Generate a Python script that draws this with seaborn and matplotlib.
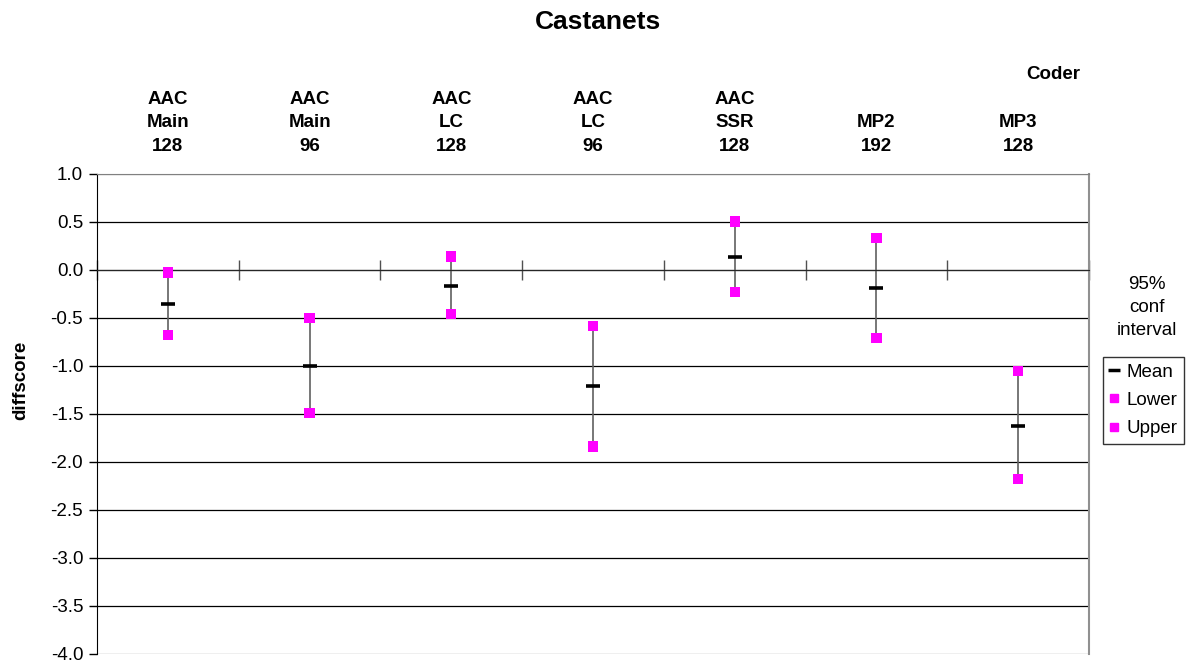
import matplotlib
matplotlib.use("Agg")
import matplotlib.pyplot as plt
from matplotlib.lines import Line2D
import numpy as np
import pandas as pd
import seaborn as sns

# Data
coders = ['AAC\nMain\n128', 'AAC\nMain\n96', 'AAC\nLC\n128', 'AAC\nLC\n96',
          'AAC\nSSR\n128', 'MP2\n192', 'MP3\n128']
mean = [-0.35, -1.00, -0.165, -1.205, 0.13, -0.19, -1.62]
lower = [-0.68, -1.49, -0.455, -1.84, -0.23, -0.705, -2.18]
upper = [-0.025, -0.50, 0.14, -0.58, 0.505, 0.336, -1.055]
yticks = np.arange(-4.0, 1.01, 0.5)

df = pd.DataFrame({'pos': range(len(coders)), 'coder': coders,
                   'Mean': mean, 'Lower': lower, 'Upper': upper})
df_ci = df.melt(id_vars=['pos', 'coder'], value_vars=['Lower', 'Upper'],
                var_name='stat', value_name='value')

sns.set_style('white', {'text.color': 'black', 'axes.labelcolor': 'black',
                        'xtick.color': 'black', 'ytick.color': 'black'})
plt.rcParams['font.family'] = ['Liberation Sans', 'DejaVu Sans']
plt.rcParams['axes.unicode_minus'] = False

fig = plt.figure(figsize=(11.95, 6.62), dpi=100)
ax = fig.add_axes([0.0812, 0.0121, 0.8301, 0.7251])

# gridlines
for v in yticks:
  ax.axhline(v, color='black' if -4 < v < 1 else '#808080', lw=0.9, zorder=0)

# confidence interval whiskers
ax.vlines(df['pos'], df['Lower'], df['Upper'], color='#606060', lw=1.2, zorder=2)

sns.scatterplot(data=df_ci, x='pos', y='value', hue='stat',
                palette={'Lower': '#FF00FF', 'Upper': '#FF00FF'},
                marker='s', s=55, linewidth=0, legend=False, ax=ax, zorder=3)
sns.scatterplot(data=df, x='pos', y='Mean', color='black', marker='_',
                s=90, linewidth=2.6, legend=False, ax=ax, zorder=4)

ax.set_xlim(-0.5, len(coders) - 0.5)
ax.set_ylim(-4.0, 1.0)
ax.set_yticks(yticks)
ax.set_yticklabels([f'{v:.1f}' for v in yticks], fontsize=13.5)
ax.tick_params(axis='y', direction='out', length=6, width=1, left=True, pad=4)

# x axis line through zero with ticks at category boundaries
ax.spines['bottom'].set_position(('data', 0))
ax.set_xticks(np.arange(-0.5, len(coders), 1.0))
ax.set_xticklabels([])
ax.tick_params(axis='x', direction='inout', length=14, width=1, bottom=True,
               color='#505050')
ax.spines['left'].set_color('black')
ax.spines['top'].set_color('#808080')
ax.spines['right'].set_color('#909090')
ax.spines['right'].set_linewidth(1.5)
ax.set_xlabel('')
ax.set_ylabel('diffscore', fontsize=13.5, fontweight='bold')
ax.yaxis.set_label_coords(-0.068, 0.57)

# category labels on top
top = ax.secondary_xaxis('top')
top.set_xticks(range(len(coders)))
top.set_xticklabels(coders, fontsize=13.5, fontweight='bold', linespacing=1.5)
top.tick_params(length=0, pad=14)
top.spines['top'].set_visible(False)

fig.text(0.5, 0.967, 'Castanets', ha='center', va='center',
         fontsize=19, fontweight='bold')
fig.text(0.881, 0.888, 'Coder', ha='center', va='center',
         fontsize=13.5, fontweight='bold')
fig.text(0.960, 0.535, '95%\nconf\ninterval', ha='center', va='center',
         fontsize=13.5, linespacing=1.45)

# legend
handles = [Line2D([], [], color='black', marker='_', ls='none', ms=8, mew=2.5),
           Line2D([], [], color='#FF00FF', marker='s', ls='none', ms=6),
           Line2D([], [], color='#FF00FF', marker='s', ls='none', ms=6)]
leg = fig.legend(handles, ['Mean', 'Lower', 'Upper'], loc='upper left',
                 bbox_to_anchor=(0.923, 0.461), fontsize=13.5, frameon=True,
                 fancybox=False, handlelength=0.5, handletextpad=0.4,
                 borderpad=0.35, labelspacing=0.6, borderaxespad=0)
leg.get_frame().set_edgecolor('black')
leg.get_frame().set_linewidth(1)

fig.savefig('out.png', dpi=100)
